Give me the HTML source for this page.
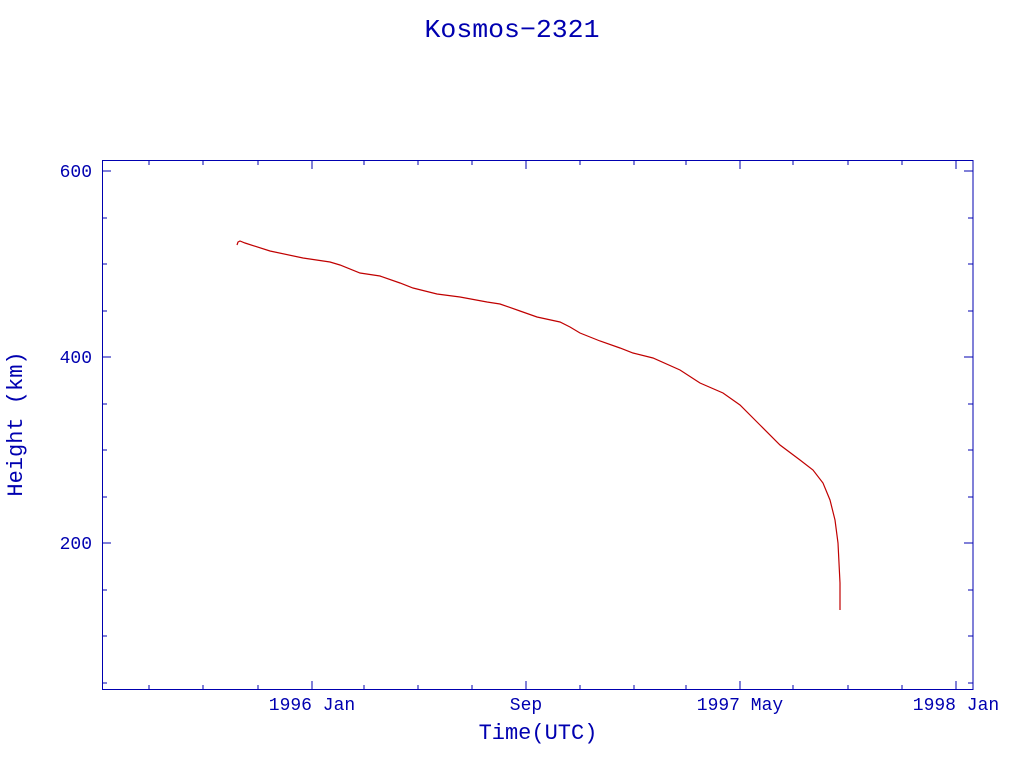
<!DOCTYPE html>
<html><head><style>
body{margin:0;background:#fff;}
svg text{font-family:"Liberation Mono",monospace;fill:#0000b0;}
</style></head><body>
<svg width="1024" height="768" xmlns="http://www.w3.org/2000/svg">
<text x="512" y="37" font-size="26" text-anchor="middle" textLength="175" lengthAdjust="spacingAndGlyphs">Kosmos−2321</text>
<rect x="102.5" y="160.5" width="870.5" height="529" fill="none" stroke="#0000b0" stroke-width="1"/>
<g stroke="#0000b0" stroke-width="1">
<path d="M102 171h9M102 357h9M102 543h9M973 171h-9M973 357h-9M973 543h-9"/>
<path d="M102 218h5M102 264h5M102 311h5M102 404h5M102 450h5M102 497h5M102 590h5M102 636h5M102 683h5
M973 218h-5M973 264h-5M973 311h-5M973 404h-5M973 450h-5M973 497h-5M973 590h-5M973 636h-5M973 683h-5"/>
<path d="M312 690v-9M526 690v-9M740 690v-9M956 690v-9M312 160v9M526 160v9M740 160v9M956 160v9"/>
<path d="M149 690v-5M203 690v-5M258 690v-5M364 690v-5M418 690v-5M472 690v-5M580 690v-5M634 690v-5M686 690v-5M793 690v-5M848 690v-5M902 690v-5
M149 160v5M203 160v5M258 160v5M364 160v5M418 160v5M472 160v5M580 160v5M634 160v5M686 160v5M793 160v5M848 160v5M902 160v5"/>
</g>
<g font-size="18">
<text x="92" y="177" text-anchor="end">600</text>
<text x="92" y="363" text-anchor="end">400</text>
<text x="92" y="549" text-anchor="end">200</text>
<text x="312" y="710" text-anchor="middle">1996 Jan</text>
<text x="526" y="710" text-anchor="middle">Sep</text>
<text x="740" y="710" text-anchor="middle">1997 May</text>
<text x="956" y="710" text-anchor="middle">1998 Jan</text>
</g>
<text x="538" y="739" font-size="22" text-anchor="middle">Time(UTC)</text>
<text transform="translate(22 424) rotate(-90)" font-size="22" text-anchor="middle">Height (km)</text>
<polyline fill="none" stroke="#c00000" stroke-width="1.2" points="237,245 238,242 240,241 245,243 270,251 303,258 330,262 340,265 360,273 380,276 400,283 413,288 437,294 460,297 487,302 500,304 520,311 537,317 560,322 570,327 580,333 600,341 620,348 633,353 653,358 680,370 700,383 723,393 740,405 760,425 780,445 800,460 813,470 823,483 830,500 835,520 838,543 839,563 840,583 840,610"/>
</svg>
</body></html>
